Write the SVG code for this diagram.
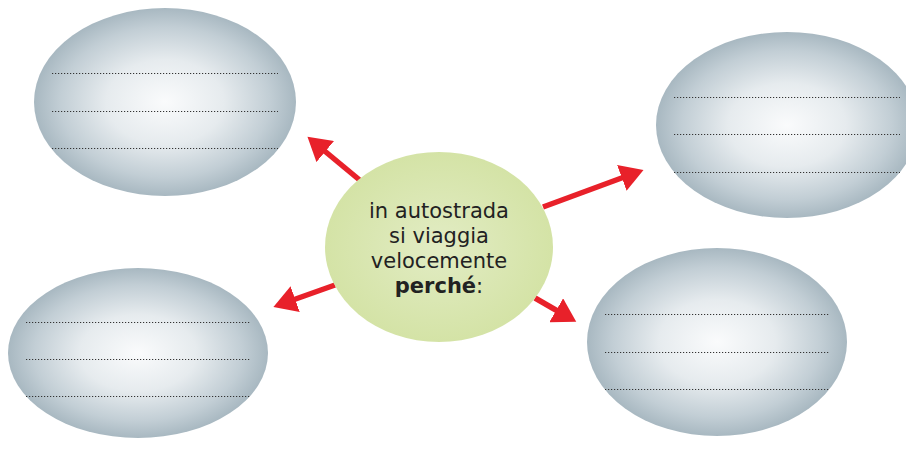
<svg xmlns="http://www.w3.org/2000/svg" width="906" height="456" viewBox="0 0 906 456">
<style>
.bubble{fill:url(#gray)}
.dots{stroke:#333;stroke-width:1.2;stroke-dasharray:1.2 1.8;fill:none}
.arrow{stroke:#e8212a;stroke-width:5.5;fill:none;marker-end:url(#head)}
.t{font-family:"DejaVu Sans","Open Sans",sans-serif;font-size:21px;fill:#222;text-anchor:middle}
</style>
<defs>
<radialGradient id="gray" cx="0.5" cy="0.5" r="0.5">
<stop offset="0" stop-color="#fafbfc"/>
<stop offset="0.45" stop-color="#e6ebee"/>
<stop offset="0.8" stop-color="#c2ced5"/>
<stop offset="1" stop-color="#a8b8c1"/>
</radialGradient>
<radialGradient id="green" cx="0.5" cy="0.5" r="0.5">
<stop offset="0" stop-color="#e2ecc4"/>
<stop offset="1" stop-color="#d4e3a6"/>
</radialGradient>
<marker id="head" markerWidth="5" markerHeight="5" refX="1" refY="2.5" orient="auto" markerUnits="strokeWidth">
<path d="M0,0 L4.2,2.5 L0,5 Z" fill="#e8212a"/>
</marker>
</defs>
<g id="connectors">
<line class="arrow" x1="362" y1="182" x2="321" y2="148"/>
<line class="arrow" x1="543" y1="207" x2="627" y2="176"/>
<line class="arrow" x1="335" y1="285" x2="290" y2="301"/>
<line class="arrow" x1="535" y1="298" x2="561" y2="313"/>
</g>
<g id="node-top-left">
<ellipse class="bubble" cx="165" cy="102" rx="131" ry="94"/>
<line class="dots" x1="52" y1="73.5" x2="278" y2="73.5"/>
<line class="dots" x1="52" y1="111.5" x2="278" y2="111.5"/>
<line class="dots" x1="52" y1="148.5" x2="278" y2="148.5"/>
</g>
<g id="node-bottom-left">
<ellipse class="bubble" cx="138" cy="353" rx="130" ry="85"/>
<line class="dots" x1="26" y1="322.5" x2="251" y2="322.5"/>
<line class="dots" x1="26" y1="359.5" x2="251" y2="359.5"/>
<line class="dots" x1="26" y1="396.5" x2="251" y2="396.5"/>
</g>
<g id="node-top-right">
<ellipse class="bubble" cx="787" cy="125" rx="131" ry="93"/>
<line class="dots" x1="674" y1="97.5" x2="900" y2="97.5"/>
<line class="dots" x1="674" y1="134.5" x2="900" y2="134.5"/>
<line class="dots" x1="674" y1="172.5" x2="900" y2="172.5"/>
</g>
<g id="node-bottom-right">
<ellipse class="bubble" cx="717" cy="342" rx="130" ry="94"/>
<line class="dots" x1="605" y1="314.5" x2="830" y2="314.5"/>
<line class="dots" x1="605" y1="352.5" x2="830" y2="352.5"/>
<line class="dots" x1="605" y1="389.5" x2="830" y2="389.5"/>
</g>
<g id="node-center">
<ellipse cx="439" cy="247" rx="114" ry="95" fill="url(#green)"/>
<text class="t" x="439" y="218">in autostrada</text>
<text class="t" x="439" y="243">si viaggia</text>
<text class="t" x="439" y="268">velocemente</text>
<text class="t" x="439" y="293"><tspan font-weight="bold">perché</tspan>:</text>
</g>
</svg>
